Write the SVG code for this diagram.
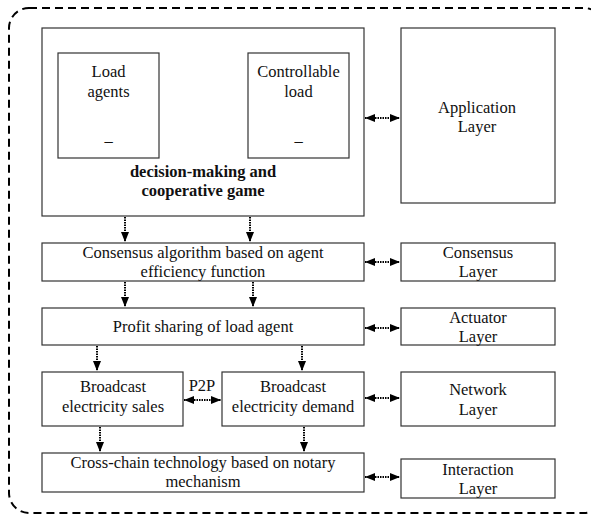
<svg xmlns="http://www.w3.org/2000/svg" width="591" height="516" viewBox="0 0 591 516">
<defs>
<marker id="ah" viewBox="0 0 10 8" refX="10" refY="4" markerWidth="10" markerHeight="8" markerUnits="userSpaceOnUse" orient="auto-start-reverse">
<path d="M0,0 L10,4 L0,8 Z" fill="#000"/>
</marker>
</defs>
<style>
.box{fill:#fff;stroke:#333;stroke-width:1.2}
text{font-family:'Liberation Serif','Times New Roman','DejaVu Serif',serif;font-size:16.5px;fill:#111;text-anchor:middle}
.b{font-weight:bold}
.c{stroke:#000;stroke-width:2;stroke-dasharray:1.5 1;fill:none}
.c1{marker-end:url(#ah)}
.c2{marker-start:url(#ah);marker-end:url(#ah)}
</style>
<rect x="9" y="8" width="595" height="505" rx="20" fill="none" stroke="#000" stroke-width="2" stroke-dasharray="8 5"/>

<g id="game">
<rect class="box" x="42" y="28" width="322" height="188"/>
<text class="b" x="203" y="177">decision-making and</text>
<text class="b" x="203" y="196">cooperative game</text>
</g>
<g id="load-agents">
<rect class="box" x="58" y="53" width="101" height="105"/>
<text x="108.5" y="77">Load</text>
<text x="108.5" y="97">agents</text>
<text x="108.5" y="141">_</text>
</g>
<g id="controllable-load">
<rect class="box" x="248" y="53" width="101" height="105"/>
<text x="298.5" y="77">Controllable</text>
<text x="298.5" y="97">load</text>
<text x="298.5" y="141">_</text>
</g>
<g id="application">
<rect class="box" x="401" y="28" width="154" height="175"/>
<text x="477" y="113">Application</text>
<text x="477" y="132">Layer</text>
</g>
<g id="consensus-alg">
<rect class="box" x="42" y="243" width="322" height="38"/>
<text x="203" y="258">Consensus algorithm based on agent</text>
<text x="203" y="277">efficiency function</text>
</g>
<g id="consensus-layer">
<rect class="box" x="401" y="243" width="154" height="38"/>
<text x="478" y="258">Consensus</text>
<text x="478" y="277">Layer</text>
</g>
<g id="profit">
<rect class="box" x="42" y="308" width="322" height="37"/>
<text x="203" y="332">Profit sharing of load agent</text>
</g>
<g id="actuator">
<rect class="box" x="401" y="308" width="154" height="37"/>
<text x="478" y="323">Actuator</text>
<text x="478" y="342">Layer</text>
</g>
<g id="sales">
<rect class="box" x="42" y="372" width="141" height="54"/>
<text x="113" y="392">Broadcast</text>
<text x="113" y="412">electricity sales</text>
</g>
<g id="demand">
<rect class="box" x="222" y="372" width="142" height="54"/>
<text x="293" y="392">Broadcast</text>
<text x="293" y="412">electricity demand</text>
</g>
<g id="network">
<rect class="box" x="401" y="372" width="154" height="54"/>
<text x="478" y="395">Network</text>
<text x="478" y="415">Layer</text>
</g>
<g id="crosschain">
<rect class="box" x="42" y="453" width="322" height="39"/>
<text x="203" y="468">Cross-chain technology based on notary</text>
<text x="203" y="487">mechanism</text>
</g>
<g id="interaction">
<rect class="box" x="401" y="459" width="154" height="39"/>
<text x="478" y="475">Interaction</text>
<text x="478" y="494">Layer</text>
</g>

<g id="connectors">
<line class="c c2" x1="365" y1="118" x2="400" y2="118"/>
<line class="c c2" x1="365" y1="262" x2="400" y2="262"/>
<line class="c c2" x1="365" y1="328" x2="400" y2="328"/>
<line class="c c2" x1="365" y1="398" x2="400" y2="398"/>
<line class="c c2" x1="365" y1="477" x2="400" y2="477"/>
<line class="c c2" x1="184" y1="400" x2="221" y2="400"/>
<text x="202" y="391">P2P</text>
<line class="c c1" x1="125" y1="217" x2="125" y2="242"/>
<line class="c c1" x1="250" y1="217" x2="250" y2="242"/>
<line class="c c1" x1="125" y1="282" x2="125" y2="307"/>
<line class="c c1" x1="253" y1="282" x2="253" y2="307"/>
<line class="c c1" x1="97" y1="346" x2="97" y2="371"/>
<line class="c c1" x1="302" y1="346" x2="302" y2="371"/>
<line class="c c1" x1="100" y1="427" x2="100" y2="452"/>
<line class="c c1" x1="304" y1="427" x2="304" y2="452"/>
</g>
</svg>
